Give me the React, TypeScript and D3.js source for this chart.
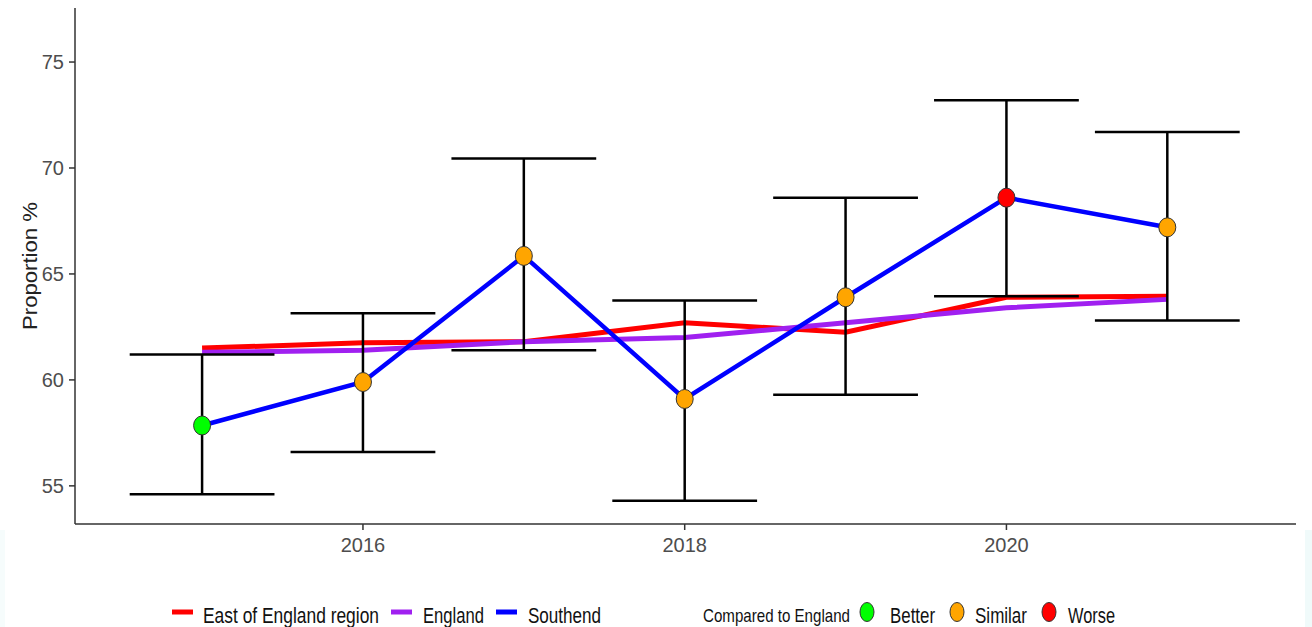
import * as d3 from "d3";
import React from "react";

const years = [2015, 2016, 2017, 2018, 2019, 2020, 2021];
const southend = [57.85, 59.9, 65.85, 59.1, 63.9, 68.6, 67.2];
const southendLower = [54.6, 56.6, 61.4, 54.3, 59.3, 63.95, 62.8];
const southendUpper = [61.2, 63.15, 70.45, 63.75, 68.6, 73.2, 71.7];
const eastOfEngland = [61.5, 61.75, 61.8, 62.7, 62.25, 63.9, 63.95];
const england = [61.3, 61.4, 61.8, 62.0, 62.7, 63.4, 63.8];
const comparison = ["Better", "Similar", "Similar", "Similar", "Similar", "Worse", "Similar"];

const yTicks = [55, 60, 65, 70, 75];
const xTicks = [2016, 2018, 2020];

const compareColours: Record<string, string> = {
  Better: "#00ff00",
  Similar: "#ffa500",
  Worse: "#ff0000",
};

const W = 1312;
const H = 627;
const font = "'Liberation Sans', Arial, sans-serif";

const App = () => {
  const xScale = d3.scaleLinear().domain([2014.21, 2021.8]).range([75, 1296]);
  const yScale = d3.scaleLinear().domain([53.2, 77.55]).range([524, 8]);

  const lineGen = d3
    .line<number>()
    .x((_, i) => xScale(years[i]))
    .y((d) => yScale(d));

  const capHalf = xScale(2015.45) - xScale(2015);

  const lineLegend = [
    { label: "East of England region", colour: "#ff0000", x: 172, tx: 203, len: 176 },
    { label: "England", colour: "#a020f0", x: 391, tx: 423, len: 61 },
    { label: "Southend", colour: "#0000ff", x: 496, tx: 528, len: 73 },
  ];
  const dotLegend = [
    { label: "Better", cx: 867, tx: 890, len: 45 },
    { label: "Similar", cx: 957, tx: 975, len: 52 },
    { label: "Worse", cx: 1049, tx: 1068, len: 47 },
  ];

  return (
    <div style={{ position: "absolute", left: 0, top: 0 }}>
      <svg width={W} height={H} style={{ display: "block", background: "#fff" }}>
        <rect x={1305} y={530} width={7} height={97} fill="#f0fafa" />
        <rect x={0} y={530} width={5} height={97} fill="#f6fcfc" />

        {/* axes */}
        <line x1={75} y1={8} x2={75} y2={524} stroke="#333" strokeWidth={1.5} />
        <line x1={75} y1={524} x2={1296} y2={524} stroke="#333" strokeWidth={1.5} />
        {yTicks.map((t) => (
          <g key={t}>
            <line x1={69} x2={75} y1={yScale(t)} y2={yScale(t)} stroke="#333" strokeWidth={1.5} />
            <text
              x={64}
              y={yScale(t)}
              dy="0.36em"
              textAnchor="end"
              fontFamily={font}
              fontSize={20}
              fill="#4d4d4d"
            >
              {t}
            </text>
          </g>
        ))}
        {xTicks.map((t) => (
          <g key={t}>
            <line x1={xScale(t)} x2={xScale(t)} y1={524} y2={530} stroke="#333" strokeWidth={1.5} />
            <text
              x={xScale(t)}
              y={552}
              textAnchor="middle"
              fontFamily={font}
              fontSize={20}
              fill="#4d4d4d"
            >
              {t}
            </text>
          </g>
        ))}
        <text
          transform="translate(37,266) rotate(-90)"
          textAnchor="middle"
          fontFamily={font}
          fontSize={20}
          fill="#222"
          textLength={128}
          lengthAdjust="spacingAndGlyphs"
        >
          Proportion %
        </text>

        {/* lines */}
        <path d={lineGen(eastOfEngland) || undefined} fill="none" stroke="#ff0000" strokeWidth={5} />
        <path d={lineGen(england) || undefined} fill="none" stroke="#a020f0" strokeWidth={5} />
        <path d={lineGen(southend) || undefined} fill="none" stroke="#0000ff" strokeWidth={4.5} />

        {/* error bars */}
        {years.map((yr, i) => (
          <g key={yr} stroke="#000" strokeWidth={2.5}>
            <line x1={xScale(yr)} x2={xScale(yr)} y1={yScale(southendUpper[i])} y2={yScale(southendLower[i])} />
            <line
              x1={xScale(yr) - capHalf}
              x2={xScale(yr) + capHalf}
              y1={yScale(southendUpper[i])}
              y2={yScale(southendUpper[i])}
            />
            <line
              x1={xScale(yr) - capHalf}
              x2={xScale(yr) + capHalf}
              y1={yScale(southendLower[i])}
              y2={yScale(southendLower[i])}
            />
          </g>
        ))}

        {/* points */}
        {years.map((yr, i) => (
          <ellipse
            key={yr}
            cx={xScale(yr)}
            cy={yScale(southend[i])}
            rx={8.5}
            ry={9.5}
            fill={compareColours[comparison[i]]}
            stroke="#333"
            strokeWidth={1}
          />
        ))}

        {/* legend */}
        {lineLegend.map((l) => (
          <g key={l.label}>
            <line x1={l.x} x2={l.x + 21} y1={612} y2={612} stroke={l.colour} strokeWidth={5} />
            <text
              x={l.tx}
              y={623}
              fontFamily={font}
              fontSize={22}
              fill="#111"
              textLength={l.len}
              lengthAdjust="spacingAndGlyphs"
            >
              {l.label}
            </text>
          </g>
        ))}
        <text
          x={703}
          y={622}
          fontFamily={font}
          fontSize={19}
          fill="#111"
          textLength={147}
          lengthAdjust="spacingAndGlyphs"
        >
          Compared to England
        </text>
        {dotLegend.map((l) => (
          <g key={l.label}>
            <ellipse
              cx={l.cx}
              cy={612}
              rx={7}
              ry={9.5}
              fill={compareColours[l.label]}
              stroke="#333"
              strokeWidth={1}
            />
            <text
              x={l.tx}
              y={623}
              fontFamily={font}
              fontSize={22}
              fill="#111"
              textLength={l.len}
              lengthAdjust="spacingAndGlyphs"
            >
              {l.label}
            </text>
          </g>
        ))}
      </svg>
    </div>
  );
};

export default App;
